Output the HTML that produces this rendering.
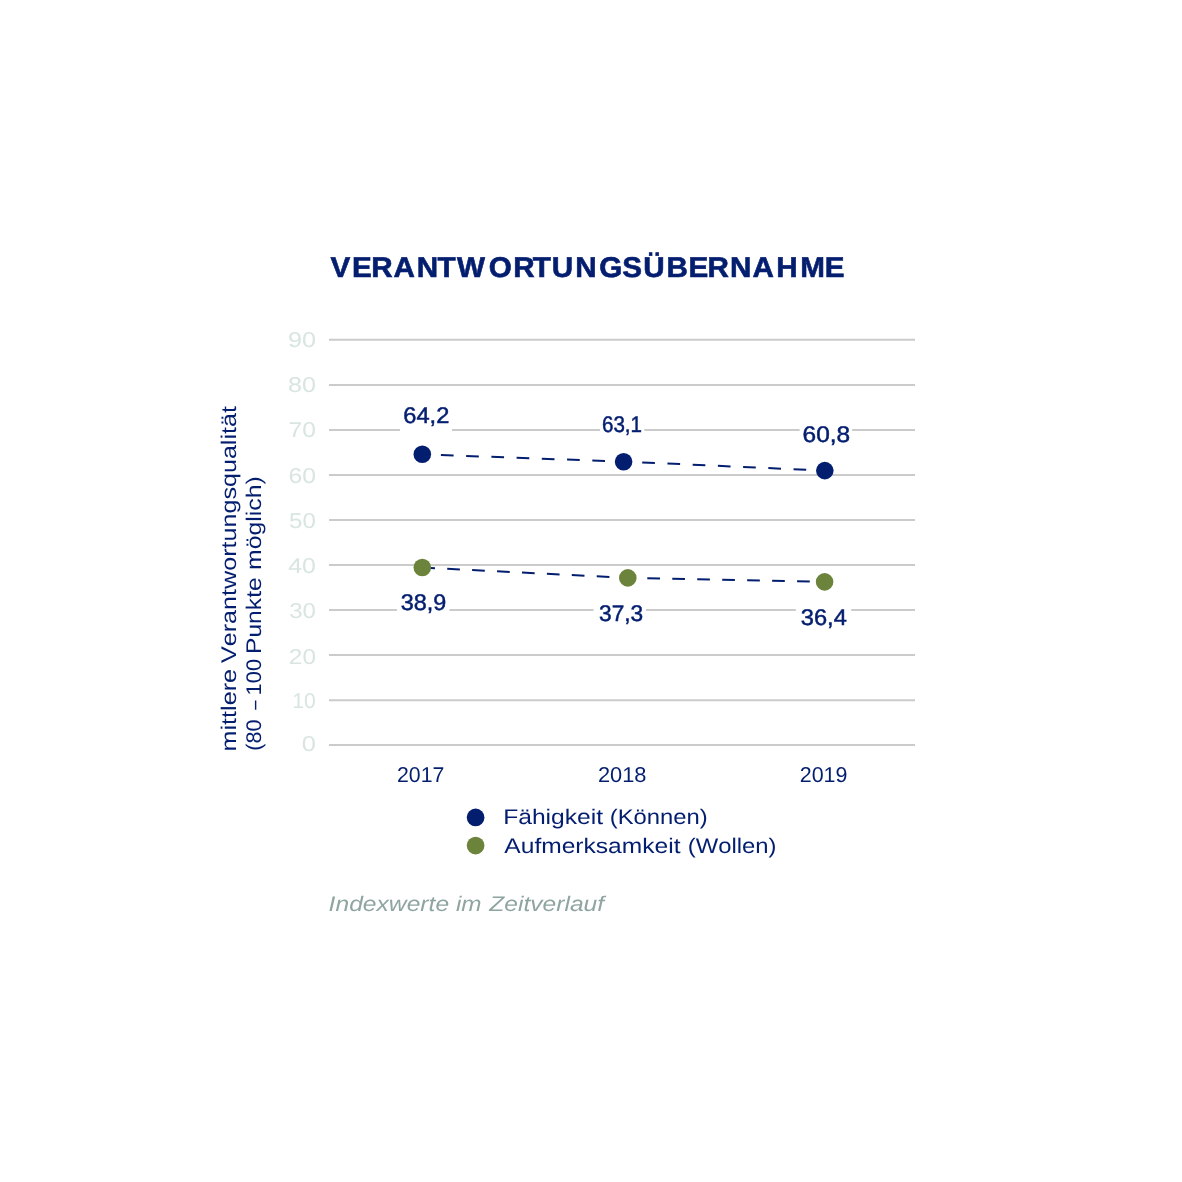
<!DOCTYPE html>
<html lang="de">
<head>
<meta charset="utf-8">
<title>Verantwortungsübernahme</title>
<style>
  html, body { margin: 0; padding: 0; background: #ffffff; }
  body { width: 1182px; height: 1182px; overflow: hidden; }
  svg { display: block; }
  text { font-family: "Liberation Sans", sans-serif; font-kerning: none; text-rendering: geometricPrecision; }
  .navy { fill: #041e6f; }
  .tick { fill: #d8e5e1; font-size: 21.4px; }
  .xl { font-size: 21.4px; }
  .val { font-size: 22.6px; stroke: #041e6f; stroke-width: 0.5px; }
  .leg { font-size: 21.2px; }
  .ttl { font-size: 28.5px; font-weight: bold; stroke: #041e6f; stroke-width: 0.6px; }
  .foot { fill: #8fa5a0; font-size: 21.2px; font-style: italic; }
</style>
</head>
<body>
<svg width="1182" height="1182" viewBox="0 0 1182 1182">
  <rect x="0" y="0" width="1182" height="1182" fill="#ffffff"/>

  <!-- title -->
  <text class="ttl navy" transform="scale(1.04 1)" x="317.85 338.46 356.93 378.38 400.73 420.57 439.48 469.89 493.52 512.15 530.54 553.08 576.14 598.29 618.52 640.99 662.12 680.2 702.02 723.62 746.35 769.57 793.13" y="277.1">VERANTWORTUNGSÜBERNAHME</text>

  <!-- grid lines -->
  <g stroke="#cbcbcb" stroke-width="2" fill="none">
    <line x1="329" y1="339.85" x2="915" y2="339.85"/>
    <line x1="329" y1="384.9" x2="915" y2="384.9"/>
    <line x1="329" y1="429.9" x2="915" y2="429.9"/>
    <line x1="329" y1="474.95" x2="915" y2="474.95"/>
    <line x1="329" y1="519.97" x2="915" y2="519.97"/>
    <line x1="329" y1="565" x2="915" y2="565"/>
    <line x1="329" y1="610.05" x2="915" y2="610.05"/>
    <line x1="329" y1="655.1" x2="915" y2="655.1"/>
    <line x1="329" y1="700.15" x2="915" y2="700.15"/>
    <line x1="329" y1="745.1" x2="915" y2="745.1"/>
  </g>

  <!-- y tick labels -->
  <g class="tick">
    <text y="346.6"><tspan x="287.92" textLength="28.07" lengthAdjust="spacingAndGlyphs">90</tspan></text>
    <text y="391.7"><tspan x="288.01" textLength="27.98" lengthAdjust="spacingAndGlyphs">80</tspan></text>
    <text y="436.9"><tspan x="288.54" textLength="27.43" lengthAdjust="spacingAndGlyphs">70</tspan></text>
    <text y="482.8"><tspan x="288.44" textLength="27.52" lengthAdjust="spacingAndGlyphs">60</tspan></text>
    <text y="527.8"><tspan x="289.14" textLength="26.81" lengthAdjust="spacingAndGlyphs">50</tspan></text>
    <text y="572.9"><tspan x="288.23" textLength="27.75" lengthAdjust="spacingAndGlyphs">40</tspan></text>
    <text y="617.8"><tspan x="289.18" textLength="26.76" lengthAdjust="spacingAndGlyphs">30</tspan></text>
    <text y="663.9"><tspan x="288.88" textLength="27.08" lengthAdjust="spacingAndGlyphs">20</tspan></text>
    <text y="707.8"><tspan x="292.29" textLength="23.54" lengthAdjust="spacingAndGlyphs">10</tspan></text>
    <text y="750.8"><tspan x="301.8" textLength="14.19" lengthAdjust="spacingAndGlyphs">0</tspan></text>
  </g>

  <!-- y axis title -->
  <g class="navy leg">
    <text transform="translate(235.8 750) rotate(-90)"><tspan x="-1.47" textLength="82.59" lengthAdjust="spacingAndGlyphs">mittlere</tspan> <tspan x="86.99" textLength="256.99" lengthAdjust="spacingAndGlyphs">Verantwortungsqualität</tspan></text>
    <text transform="translate(260.7 750) rotate(-90)"><tspan x="-0.84" textLength="31.29" lengthAdjust="spacingAndGlyphs">(80</tspan> <tspan x="40.3" textLength="9.31" lengthAdjust="spacingAndGlyphs">–</tspan> <tspan x="54.64" textLength="36.42" lengthAdjust="spacingAndGlyphs">100</tspan> <tspan x="95.98" textLength="76.72" lengthAdjust="spacingAndGlyphs">Punkte</tspan> <tspan x="180.05" textLength="93.68" lengthAdjust="spacingAndGlyphs">möglich)</tspan></text>
  </g>

  <!-- white label backgrounds -->
  <g fill="#ffffff">
    <rect x="400" y="402" width="52" height="30"/>
    <rect x="600" y="412" width="44.3" height="30"/>
    <rect x="799.6" y="421" width="52.5" height="30"/>
    <rect x="396.9" y="589" width="52.5" height="30"/>
    <rect x="593.5" y="600" width="52.5" height="30"/>
    <rect x="795.8" y="604" width="55.4" height="30"/>
  </g>

  <!-- dashed lines -->
  <g stroke="#041e6f" stroke-width="2" fill="none">
    <line x1="440.9" y1="455.0" x2="605.0" y2="461.0" stroke-dasharray="12.7 12.55"/>
    <line x1="642.2" y1="462.4" x2="806.2" y2="469.8" stroke-dasharray="12.7 12.55"/>
    <line x1="422.3" y1="567.5" x2="627.8" y2="577.9" stroke-dasharray="12.7 12.25"/>
    <line x1="647.3" y1="578.3" x2="809.8" y2="581.6" stroke-dasharray="12.7 12.27"/>
  </g>

  <!-- data points -->
  <g fill="#041e6f">
    <circle cx="422.3" cy="454.3" r="8.8"/>
    <circle cx="623.6" cy="461.7" r="8.8"/>
    <circle cx="824.8" cy="470.6" r="8.8"/>
  </g>
  <g fill="#6c833c">
    <circle cx="422.3" cy="567.5" r="8.8"/>
    <circle cx="627.8" cy="577.9" r="8.8"/>
    <circle cx="824.6" cy="581.9" r="8.8"/>
  </g>

  <!-- value labels -->
  <g class="val navy">
    <text y="422.6"><tspan x="403.3" textLength="45.99" lengthAdjust="spacingAndGlyphs">64,2</tspan></text>
    <text y="432.3"><tspan x="601.96" textLength="40.05" lengthAdjust="spacingAndGlyphs">63,1</tspan></text>
    <text y="441.9"><tspan x="802.56" textLength="47.61" lengthAdjust="spacingAndGlyphs">60,8</tspan></text>
    <text y="610"><tspan x="400.71" textLength="45.5" lengthAdjust="spacingAndGlyphs">38,9</tspan></text>
    <text y="620.8"><tspan x="599.04" textLength="44.16" lengthAdjust="spacingAndGlyphs">37,3</tspan></text>
    <text y="624.6"><tspan x="800.8" textLength="45.99" lengthAdjust="spacingAndGlyphs">36,4</tspan></text>
  </g>

  <!-- x labels -->
  <g class="xl navy">
    <text y="782"><tspan x="397.03" textLength="47.34" lengthAdjust="spacingAndGlyphs">2017</tspan></text>
    <text y="782"><tspan x="597.9" textLength="48.55" lengthAdjust="spacingAndGlyphs">2018</tspan></text>
    <text y="782"><tspan x="799.72" textLength="47.8" lengthAdjust="spacingAndGlyphs">2019</tspan></text>
  </g>

  <!-- legend -->
  <circle cx="475.6" cy="817.4" r="8.85" fill="#041e6f"/>
  <circle cx="475.6" cy="845.6" r="8.85" fill="#6c833c"/>
  <g class="leg navy">
    <text y="823.5"><tspan x="503.18" textLength="99.9" lengthAdjust="spacingAndGlyphs">Fähigkeit</tspan> <tspan x="609.72" textLength="97.95" lengthAdjust="spacingAndGlyphs">(Können)</tspan></text>
    <text y="852.5"><tspan x="504.35" textLength="176.13" lengthAdjust="spacingAndGlyphs">Aufmerksamkeit</tspan> <tspan x="687.72" textLength="88.76" lengthAdjust="spacingAndGlyphs">(Wollen)</tspan></text>
  </g>

  <!-- footnote -->
  <text class="foot" y="910.5"><tspan x="328.63" textLength="120.49" lengthAdjust="spacingAndGlyphs">Indexwerte</tspan> <tspan x="455.91" textLength="25.62" lengthAdjust="spacingAndGlyphs">im</tspan> <tspan x="489.28" textLength="114.89" lengthAdjust="spacingAndGlyphs">Zeitverlauf</tspan></text>
</svg>
</body>
</html>
